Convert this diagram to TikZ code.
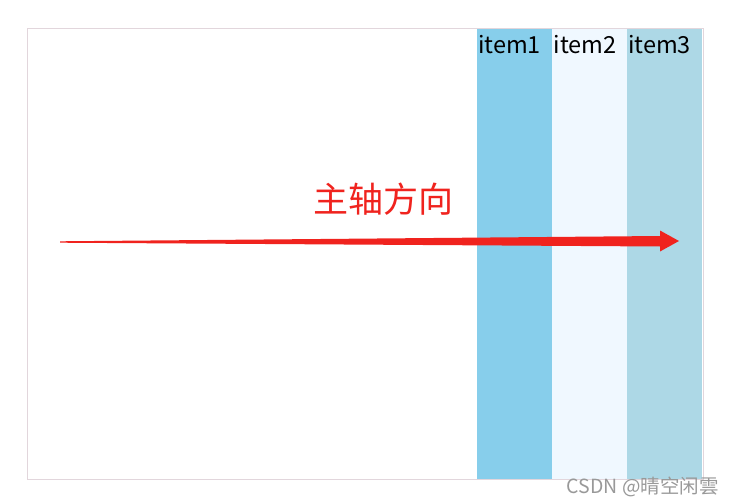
\documentclass[tikz,border=0pt]{standalone}
\usepackage{fontspec}
\newfontfamily\cjk{Noto Sans CJK SC}
\definecolor{itemA}{HTML}{87CEEB}
\definecolor{itemB}{HTML}{F0F8FF}
\definecolor{itemC}{HTML}{ADD8E6}
\definecolor{frame}{HTML}{E2D6DC}
\definecolor{arrowred}{HTML}{F0231E}
\begin{document}
\begin{tikzpicture}[x=1pt,y=-1pt,
  col/.style={draw=none,minimum width=75pt,minimum height=450pt,inner sep=0pt,anchor=north west},
  lbl/.style={font=\cjk\fontsize{23.5}{23.5}\selectfont,text=black,inner sep=0pt}]
\useasboundingbox (0,0) rectangle (734,503);
\fill[white] (0,0) rectangle (734,503);
\node[col,fill=itemA] (c1) at (477,29) {};
\node[col,fill=itemB] (c2) at (552,29) {};
\node[col,fill=itemC] (c3) at (627,29) {};
\draw[frame,line width=1pt] (27,28.5) rectangle (703,479.5);
\node[lbl] (t1) at (509.5,45) {item1};
\node[lbl] (t2) at (585,45) {item2};
\node[lbl] (t3) at (659.5,45) {item3};
\node[font=\cjk\fontsize{35}{35}\selectfont,text=arrowred,inner sep=0pt] (axis) at (383,199) {主轴方向};
\coordinate (s) at (60,242);
\coordinate (e) at (679,241);
\fill[arrowred] (60,241.3) -- (660,236) -- (660,230.5) -- (e) -- (660,251.5) -- (660,246.5) -- (60,242.7) -- cycle;
\node[font=\cjk\fontsize{19.5}{19.5}\selectfont,text=black!40,inner sep=0pt,anchor=east] (wm) at (719,487) {CSDN @晴空闲雲};
\end{tikzpicture}
\end{document}
